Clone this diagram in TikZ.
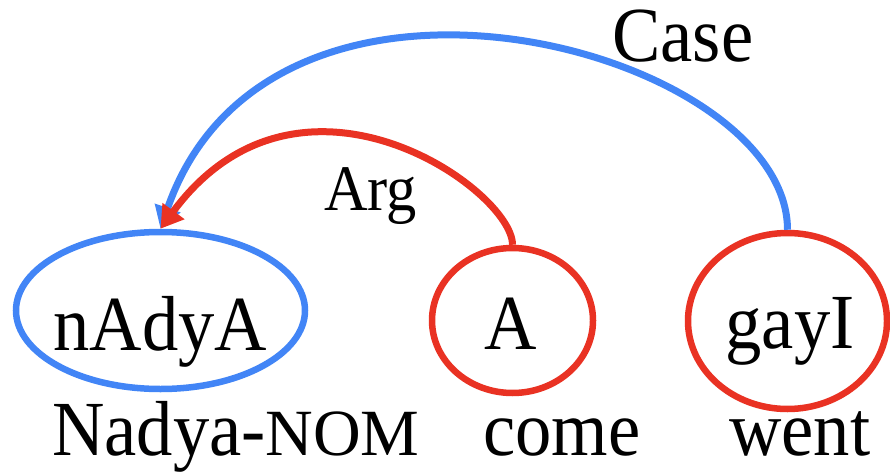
\documentclass[tikz,border=0pt]{standalone}
\usepackage{fontspec}
\setmainfont{Liberation Serif}[FakeStretch=0.93]
\newfontfamily\nomfont{Liberation Serif}
\usetikzlibrary{arrows.meta,shapes.geometric}

\definecolor{caseblue}{RGB}{66,133,246}
\definecolor{argred}{RGB}{233,50,35}

\tikzset{
  word/.style={ellipse, draw, line width=6.5pt, inner sep=0pt},
  gloss/.style={inner sep=0pt, font=\fontsize{78}{80}\selectfont},
  relation/.style={line width=7pt,
    -{Triangle[length=22pt,width=26pt]}},
  rellabel/.style={inner sep=0pt, anchor=base west},
}

\begin{document}
\begin{tikzpicture}[x=1pt,y=-1pt]
\useasboundingbox (0,0) rectangle (890,473);

% word ellipses
\node[word, draw=caseblue, minimum width=289pt, minimum height=157pt] (nAdyA) at (160.5,310.5) {};
\node[word, draw=argred,   minimum width=161pt, minimum height=145pt] (A)     at (512.5,320.5) {};
\node[word, draw=argred,   minimum width=199pt, minimum height=176pt] (gayI)  at (787.5,321) {};

% transliterations
\node[gloss, anchor=base] (nAdyAtext) at (160.5,350) {nAdyA};
\node[gloss, anchor=base] (Atext)     at (511,349) {A};
\node[gloss, anchor=base] (gayItext)  at (790,348) {gayI};

% glosses
\node[gloss, anchor=base west] (g1) at (52,455) {Nadya-{\nomfont\fontsize{66}{68}\selectfont NOM}};
\node[gloss, anchor=base west] (g2) at (483,455) {come};
\node[gloss, anchor=base west] (g3) at (729,455) {went};

% dependency arcs
\draw[relation, caseblue] (gayI.north) .. controls +(0,-180) and +(110,-319) .. (nAdyA.north);
\draw[relation, argred] (A.north) .. controls +(0,-55) and +(139.5,-189) .. (nAdyA.north);

% arc labels
\node[rellabel, font=\fontsize{78}{80}\selectfont] (caselbl) at (612,62) {Case};
\node[rellabel, font=\fontsize{65}{67}\selectfont] (arglbl) at (324,210) {Arg};
\end{tikzpicture}
\end{document}
